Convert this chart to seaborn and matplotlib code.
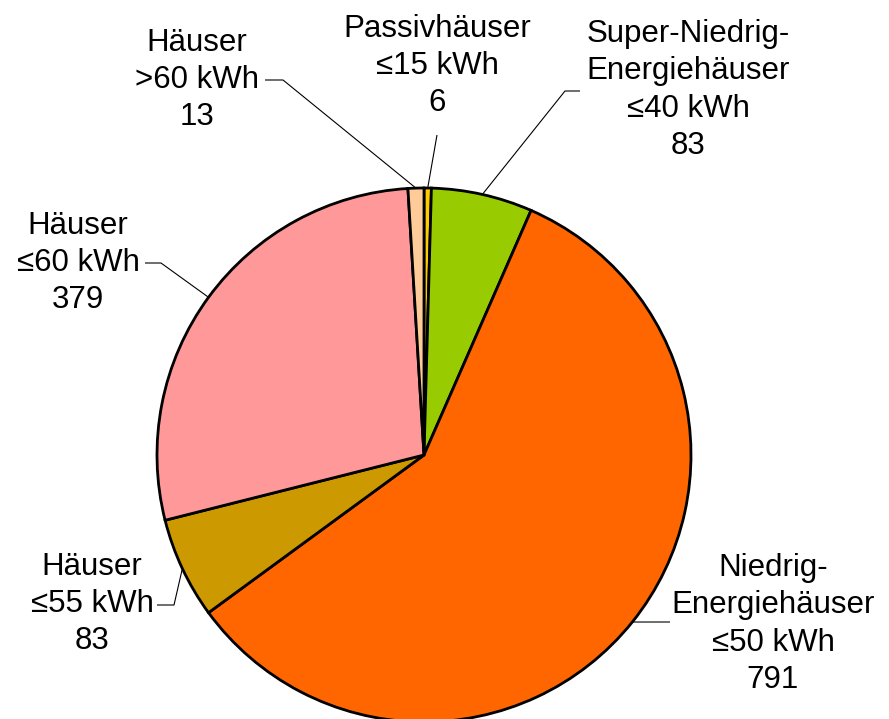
import numpy as np
import matplotlib
matplotlib.use("Agg")
import matplotlib.pyplot as plt
import seaborn as sns

labels = ["Passivhäuser\n≤15 kWh", "Super-Niedrig-\nEnergiehäuser\n≤40 kWh",
          "Niedrig-\nEnergiehäuser\n≤50 kWh", "Häuser\n≤55 kWh",
          "Häuser\n≤60 kWh", "Häuser\n>60 kWh"]
values = [6, 83, 791, 83, 379, 13]
colors = ["#FFCC00", "#99CC00", "#FF6600", "#CC9900", "#FF9999", "#FFCC99"]

# label text centres and elbow points (pixel layout)
text_pos = [(437, 66), (688, 90), (773, 624), (92, 604), (78, 263), (197, 80)]
elbow = [(437, 135), (565, 91), (670, 622), (174, 605), (161, 263), (283, 80)]
line_start = [None, (580, 91), None, (157, 605), (145, 263), (265, 80)]

sns.set_style("white")
plt.rcParams["font.family"] = ["Liberation Sans", "DejaVu Sans"]

fig = plt.figure(figsize=(8.89, 7.19), dpi=100)
ax = fig.add_axes([0, 0, 1, 1])
cx, cy, r = 424, -455, 267
wedges, _ = ax.pie(values, colors=colors, startangle=90, counterclock=False,
                   center=(cx, cy), radius=r,
                   wedgeprops=dict(edgecolor="black", linewidth=2.0))
ax.set_xlim(0, 889)
ax.set_ylim(-719, 0)
ax.set_aspect("equal")
ax.axis("off")

for w, lab, v, tp, el, ls in zip(wedges, labels, values, text_pos, elbow, line_start):
    ang = np.deg2rad((w.theta1 + w.theta2) / 2)
    ax_x = cx + r * np.cos(ang)
    ax_y = cy + r * np.sin(ang)
    xs = [el[0], ax_x]
    ys = [-el[1], ax_y]
    if ls is not None:
        xs = [ls[0]] + xs
        ys = [-ls[1]] + ys
    ax.plot(xs, ys, color="black", linewidth=0.8, solid_capstyle="butt")
    ax.text(tp[0], -tp[1], f"{lab}\n{v}", ha="center", va="center",
            fontsize=22.5, linespacing=1.32, color="black")

fig.savefig("out.png", dpi=100, facecolor="white")
